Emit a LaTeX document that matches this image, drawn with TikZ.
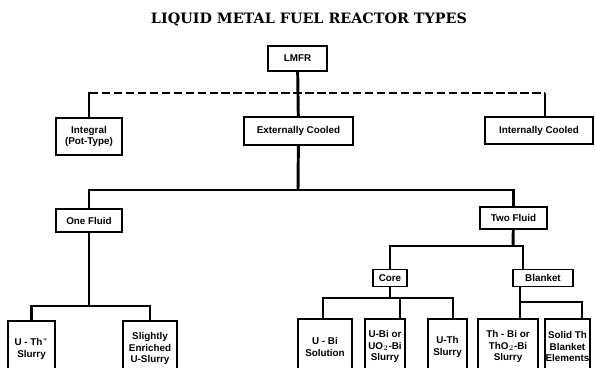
\documentclass[tikz,border=0pt]{standalone}
\usepackage{fontspec}
\newfontfamily\titlefont{DejaVu Serif}
\newfontfamily\boxfont{Liberation Sans}
\newdimen\pxu
\pxu=0.7087pt

\begin{document}
\begin{tikzpicture}[x=0.025cm,y=-0.025cm,
  box/.style={draw,line width=1.3pt,fill=white,align=center,inner sep=1pt,
    font={\boxfont\bfseries\fontsize{7}{8.2}\selectfont}},
  leaf/.style={box,anchor=north,minimum height=56\pxu},
  link/.style={line width=2.1pt},
  dashlink/.style={line width=2.1pt,dash pattern=on 6pt off 2.5pt}]
  \useasboundingbox (0,0) rectangle (595,368);
  \clip (0,0) rectangle (595,368);
  % title
  \node[font={\titlefont\bfseries\fontsize{10.2}{12}\selectfont}] (title) at (309,19) {LIQUID METAL FUEL REACTOR TYPES};
  % top level
  \node[box,minimum width=59\pxu,minimum height=25\pxu] (lmfr) at (297.5,58.5) {LMFR};
  \node[box,minimum width=66\pxu,minimum height=37\pxu] (integ) at (89,136.5) {Integral\\(Pot-Type)};
  \node[box,minimum width=109\pxu,minimum height=28\pxu] (extc) at (298.5,131) {Externally Cooled};
  \node[box,minimum width=108\pxu,minimum height=27\pxu] (intc) at (539,130.5) {Internally Cooled};
  % fluid level
  \node[box,minimum width=66\pxu,minimum height=23\pxu] (onef) at (89,220.5) {One Fluid};
  \node[box,minimum width=67\pxu,minimum height=22\pxu] (twof) at (513.5,218) {Two Fluid};
  \node[box,minimum width=34\pxu,minimum height=17\pxu] (core) at (390,278) {Core};
  \node[box,minimum width=60\pxu,minimum height=17\pxu] (blank) at (543,278) {Blanket};
  % leaves (cut off at the bottom)
  \node[leaf,minimum width=47\pxu] (uth) at (31.5,320) {U - Th$^*$\\Slurry};
  \node[leaf,minimum width=54\pxu] (seu) at (150,320) {Slightly\\Enriched\\U-Slurry};
  \node[leaf,minimum width=54\pxu] (ubis) at (325,318) {U - Bi\\Solution};
  \node[leaf,minimum width=40\pxu] (ubio) at (385,318) {U-Bi or\\UO$_2$-Bi\\Slurry};
  \node[leaf,minimum width=39\pxu] (uths) at (447.5,318) {U-Th\\Slurry};
  \node[leaf,minimum width=60\pxu] (thbi) at (508,318) {Th - Bi or\\ThO$_2$-Bi\\Slurry};
  \node[leaf,minimum width=45\pxu,inner xsep=0pt] (solid) at (567.5,318) {Solid Th\\Blanket\\Elements};
  % junctions
  \coordinate (dl) at (90,93);
  \coordinate (dr) at (545,93);
  \coordinate (ebar) at (298,190);
  \coordinate (tbar) at (513,246);
  \coordinate (tbarR) at (523,246);
  \coordinate (obar) at (89,306);
  \coordinate (cbar) at (390,298);
  \coordinate (cbarL) at (323,298);
  \coordinate (cbarM) at (400,298);
  \coordinate (cbarR) at (453,298);
  \coordinate (bbar) at (520,302);
  \coordinate (bbarR) at (582,302);
  % reactor types
  \draw[dashlink] (dl) -- (dr);
  \draw[link] (integ) -- (integ |- dl) -- (dl);
  \draw[link] (dr) -- (dr |- intc.north);
  \draw[link] (lmfr) -- (extc);
  % one / two fluid
  \draw[link] (extc) -- (ebar);
  \draw[link] (onef) |- (ebar) -| (twof);
  % one fluid types
  \draw[link] (onef) -- (obar);
  \draw[link] (uth) |- (obar) -| (seu);
  % core and blanket
  \draw[link] (twof) -- (tbar);
  \draw[link] (core) |- (tbarR) -- (tbarR |- blank.north);
  % core types
  \draw[link] (core) -- (cbar);
  \draw[link] (cbarL |- ubis.north) -- (cbarL) -- (cbarR) -- (cbarR |- uths.north);
  \draw[link] (cbarM) -- (cbarM |- ubio.north);
  % blanket types
  \draw[link] (bbar |- blank.south) -- (bbar) -- (bbarR) -- (bbarR |- solid.north);
  \draw[link] (bbar) -- (bbar |- thbi.north);
\end{tikzpicture}
\end{document}
